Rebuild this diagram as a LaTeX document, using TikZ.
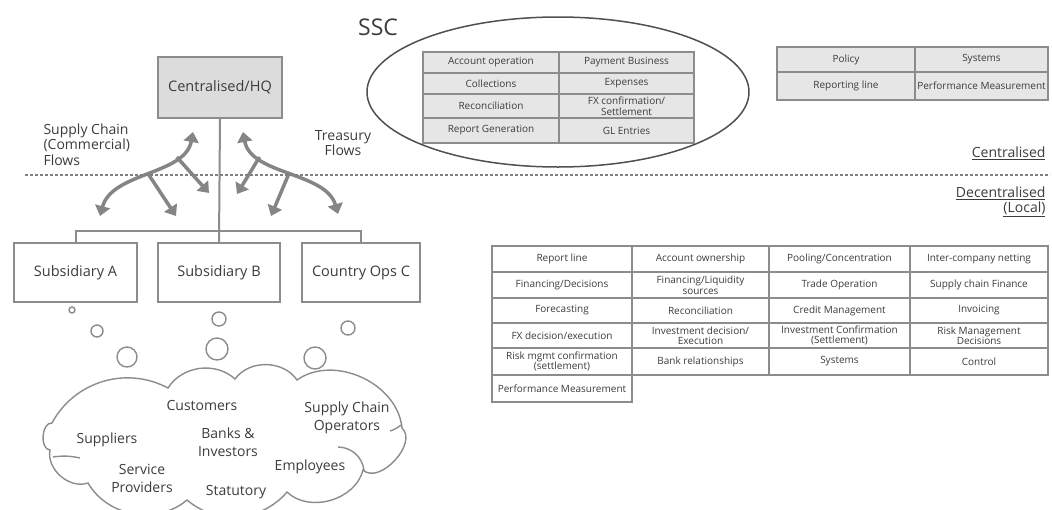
\documentclass[tikz,border=0pt]{standalone}
\usepackage{fontspec}
\setmainfont{Open Sans}
\usetikzlibrary{arrows.meta,shapes.geometric}
\definecolor{ink}{HTML}{3C3C3C}
\definecolor{rulegray}{HTML}{8C8C8C}
\definecolor{flowgray}{HTML}{858585}
\definecolor{cellfill}{HTML}{E6E6E6}
\definecolor{hqfill}{HTML}{DCDCDC}

% table cell from corner (x1,y1) to (x2,y2): [style] {x1}{y1}{x2}{y2}{name}{text}
\newcommand\tabcell[7][]{%
  \node[cell,#1,minimum width={(#4-#2)*1pt},minimum height={(#5-#3)*1pt}]
    (#6) at ({(#2+#4)/2},{(#3+#5)/2}) {#7};}

\begin{document}
\begin{tikzpicture}[x=1pt,y=-1pt,
  every node/.style={text=ink},
  cell/.style={draw=rulegray,line width=1.1pt,inner sep=0pt,align=center,
    font=\fontsize{10}{10.5}\selectfont},
  shaded/.style={fill=cellfill},
  orgbox/.style={draw=rulegray,line width=2.2pt,fill=white,
    font=\fontsize{14.5}{16}\selectfont},
  conn/.style={draw=rulegray,line width=2pt},
  flow/.style={draw=flowgray,line width=3.5pt,>={Triangle[length=10pt,width=15pt]}},
  lbl/.style={font=\fontsize{14}{15.5}\selectfont},
  cloudtxt/.style={font=\fontsize{14}{18}\selectfont,align=center},
  bubble/.style={circle,draw=rulegray,line width=1.4pt,inner sep=0pt},
  cloudline/.style={draw=rulegray,line width=1.4pt},
  divider/.style={draw=gray,line width=1.3pt,dash pattern=on 3pt off 2pt}]

% canvas
\fill[white] (0,0) rectangle (1052,509);
\useasboundingbox (0,0) rectangle (1052,509);

% ---------- organisation chart ----------
\node[orgbox,fill=hqfill,minimum width=124pt,minimum height=61pt] (hq) at (220,87.5) {Centralised/HQ};
\node[orgbox,minimum width=123pt,minimum height=59pt] (subA) at (75.5,272.5) {Subsidiary A};
\node[orgbox,minimum width=122pt,minimum height=59pt] (subB) at (219,272.5) {Subsidiary B};
\node[orgbox,minimum width=118pt,minimum height=59pt] (subC) at (361,272.5) {Country Ops C};
\draw[conn] (hq.south) -- (subB.north);
\draw[conn] (subA.north) -- ++(0,-11) -| (subC.north);

% flow labels
\node[lbl,align=left,anchor=north west] (scflow) at (40,120) {Supply Chain\\(Commercial)\\Flows};
\node[lbl,align=center] (tflow) at (343,143) {Treasury\\Flows};

% supply chain flow arrows
\coordinate (scTop) at (193,132);
\coordinate (scLeft) at (100,216);
\coordinate (scMid) at (176,216);
\coordinate (scIn) at (209,193);
\draw[flow,<->] (scLeft) .. controls (112,172) and (185,175) .. (scTop)
  coordinate[pos=0.5] (scB1) coordinate[pos=0.75] (scB2);
\draw[flow,->] (scB1) -- (scMid);
\draw[flow,->] (scB2) -- (scIn);

% treasury flow arrows
\coordinate (trTop) at (243,132);
\coordinate (trRight) at (338,214);
\coordinate (trIn) at (237,194);
\coordinate (trMid) at (271,216);
\draw[flow,<->] (trTop) .. controls (251,175) and (326,172) .. (trRight)
  coordinate[pos=0.25] (trB1) coordinate[pos=0.5] (trB2);
\draw[flow,->] (trB1) -- (trIn);
\draw[flow,->] (trB2) -- (trMid);

% ---------- centralised / decentralised divider ----------
\coordinate (divL) at (25,175);
\coordinate (divR) at (1050,175);
\draw[divider] (divL) -- (divR);
\node[lbl,anchor=east] (cenlbl) at (1049,153) {\underline{Centralised}};
\node[lbl,anchor=north east,align=right] (declbl) at (1049,183) {\underline{Decentralised}\\\underline{(Local)}};

% ---------- shared service centre ----------
\node[font=\fontsize{23}{24}\selectfont] (ssc) at (378,27) {SSC};
\node[ellipse,draw=ink!90,line width=1.5pt,inner sep=0pt,minimum width=382pt,minimum height=150pt] (sscpool) at (558,92) {};
\tabcell[shaded]{423}{52}{559}{73}{s11}{Account operation}
\tabcell[shaded]{559}{52}{694}{73}{s12}{Payment Business}
\tabcell[shaded]{423}{73}{559}{94}{s21}{Collections}
\tabcell[shaded]{559}{73}{694}{94}{s22}{Expenses}
\tabcell[shaded]{423}{94}{559}{118}{s31}{Reconciliation}
\tabcell[shaded]{559}{94}{694}{118}{s32}{FX confirmation/\\Settlement}
\tabcell[shaded]{423}{118}{559}{143}{s41}{Report Generation}
\tabcell[shaded]{559}{118}{694}{143}{s42}{GL Entries}

% ---------- central governance ----------
\tabcell[shaded]{777}{47}{915}{72}{g11}{Policy}
\tabcell[shaded]{915}{47}{1048}{72}{g12}{Systems}
\tabcell[shaded]{777}{72}{915}{100}{g21}{Reporting line}
\tabcell[shaded]{915}{72}{1048}{100}{g22}{Performance Measurement}

% ---------- local responsibilities ----------
\tabcell{492}{246}{632}{272}{d11}{Report line}
\tabcell{632}{246}{769}{272}{d12}{Account ownership}
\tabcell{769}{246}{910}{272}{d13}{Pooling/Concentration}
\tabcell{910}{246}{1048}{272}{d14}{Inter-company netting}
\tabcell{492}{272}{632}{298}{d21}{Financing/Decisions}
\tabcell{632}{272}{769}{298}{d22}{Financing/Liquidity\\sources}
\tabcell{769}{272}{910}{298}{d23}{Trade Operation}
\tabcell{910}{272}{1048}{298}{d24}{Supply chain Finance}
\tabcell{492}{298}{632}{323}{d31}{Forecasting}
\tabcell{632}{298}{769}{323}{d32}{Reconciliation}
\tabcell{769}{298}{910}{323}{d33}{Credit Management}
\tabcell{910}{298}{1048}{323}{d34}{Invoicing}
\tabcell{492}{323}{632}{348}{d41}{FX decision/execution}
\tabcell{632}{323}{769}{348}{d42}{Investment decision/\\Execution}
\tabcell{769}{323}{910}{348}{d43}{Investment Confirmation\\(Settlement)}
\tabcell{910}{323}{1048}{348}{d44}{Risk Management\\Decisions}
\tabcell{492}{348}{632}{375}{d51}{Risk mgmt confirmation\\(settlement)}
\tabcell{632}{348}{769}{375}{d52}{Bank relationships}
\tabcell{769}{348}{910}{375}{d53}{Systems}
\tabcell{910}{348}{1048}{375}{d54}{Control}
\tabcell{492}{375}{632}{402}{d61}{Performance Measurement}

% ---------- thought bubbles ----------
\node[bubble,minimum size=6pt] (ba1) at (72,310) {};
\node[bubble,minimum size=12pt] (ba2) at (97,331) {};
\node[bubble,minimum size=20pt] (ba3) at (127,357) {};
\node[bubble,minimum size=14pt] (bb1) at (219,319) {};
\node[bubble,minimum size=22pt] (bb2) at (217,349) {};
\node[bubble,minimum size=14pt] (bc1) at (348,328) {};
\node[bubble,minimum size=22pt] (bc2) at (315,358) {};

% ---------- stakeholder cloud ----------
\draw[cloudline,fill=white] (52,423) to[bend left=45] (168,388) to[bend left=50] (235,379)
  to[bend left=55] (297,380) to[bend left=60] (402,428) to[bend left=90] (363,470)
  to[bend left=60] (287,492) to[bend left=45] (187,500) to[bend left=50] (88,483)
  to[bend left=60] (50,450) to[bend left=90] cycle;
\draw[cloudline] (338,447) to[bend left=40] (364,470);
\draw[cloudline] (390,431) to[bend right=10] (401,425);
\draw[cloudline] (53,457) to[bend left=10] (80,458);

\node[cloudtxt] (cust) at (202,405) {Customers};
\node[cloudtxt] (scops) at (347,418) {Supply Chain\\Operators};
\node[cloudtxt] (supp) at (107,440) {Suppliers};
\node[cloudtxt] (banks) at (228,442) {Banks \&\\Investors};
\node[cloudtxt] (serv) at (142,478) {Service\\Providers};
\node[cloudtxt] (empl) at (310,467) {Employees};
\node[cloudtxt] (stat) at (236,492) {Statutory};
\end{tikzpicture}
\end{document}
